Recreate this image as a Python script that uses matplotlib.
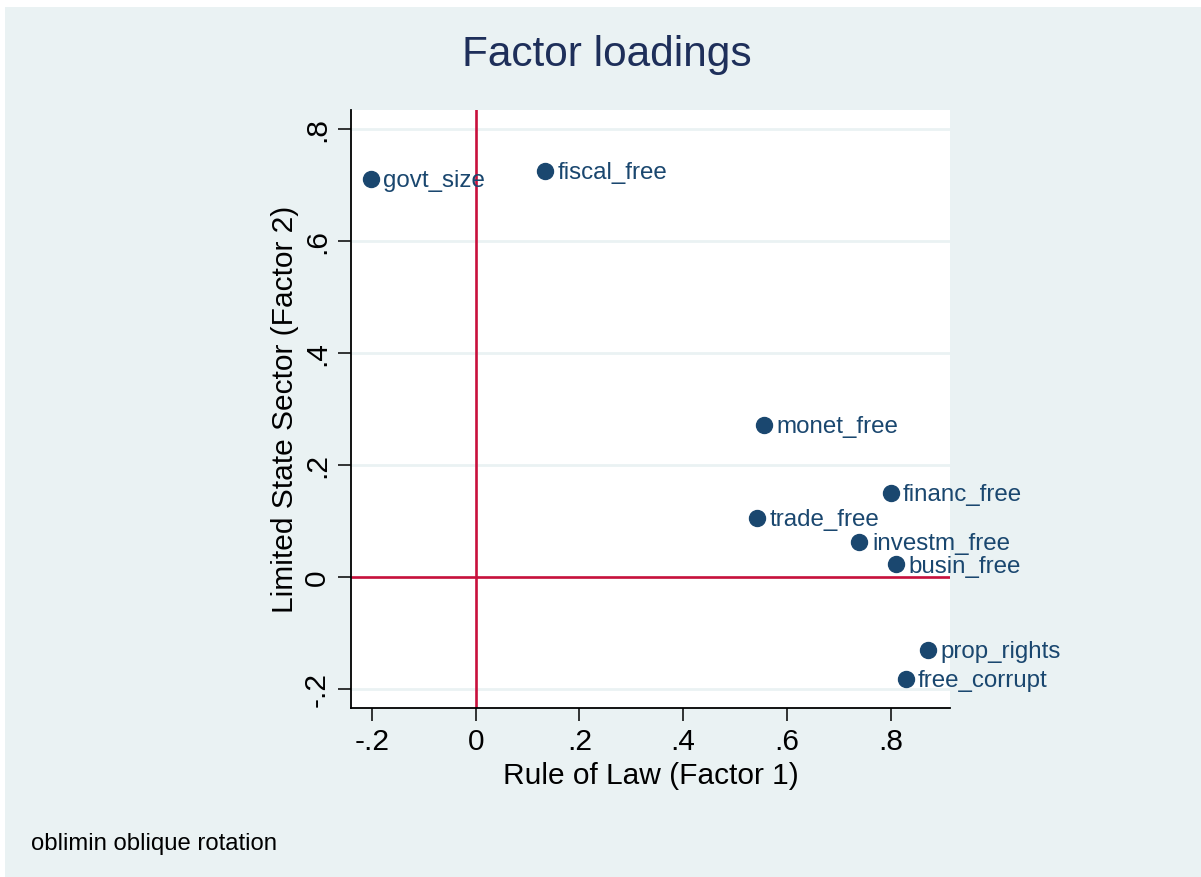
import matplotlib
matplotlib.use("Agg")
import matplotlib.pyplot as plt
from matplotlib.patches import Rectangle

plt.rcParams['font.family'] = ['Liberation Sans', 'DejaVu Sans']

variables = ["govt_size", "fiscal_free", "monet_free", "financ_free", "trade_free",
             "investm_free", "busin_free", "prop_rights", "free_corrupt"]
factor1 = [-0.202, 0.133, 0.556, 0.800, 0.542, 0.740, 0.810, 0.873, 0.829]
factor2 = [0.711, 0.725, 0.272, 0.150, 0.106, 0.063, 0.023, -0.129, -0.182]

xticks = [-0.2, 0, 0.2, 0.4, 0.6, 0.8]
yticks = [-0.2, 0, 0.2, 0.4, 0.6, 0.8]

def fmt(v):
    if abs(v) < 1e-9:
        return "0"
    s = f"{v:.1f}"
    return s.replace("0.", ".")

BG = "#EAF2F3"
NAVY = "#1a476f"
RED = "#c8103c"

fig = plt.figure(figsize=(12.01, 8.77), dpi=100)
fig.patch.set_facecolor("white")
fig.patches.append(Rectangle((5 / 1201, 0), 1, 1 - 7 / 877, transform=fig.transFigure,
                             facecolor=BG, edgecolor="none", zorder=-10))

ax = fig.add_axes([351 / 1201, 1 - 708 / 877, (950 - 351) / 1201, (708 - 110) / 877])
ax.set_facecolor("white")
ax.set_xlim(-0.2405, 0.9147)
ax.set_ylim(-0.2334, 0.8345)

for y in yticks:
    ax.axhline(y, color=BG, lw=2, zorder=1)
ax.axvline(0, color=RED, lw=1.9, zorder=2)
ax.axhline(0, color=RED, lw=1.9, zorder=2)

ax.plot(factor1, factor2, 'o', color=NAVY, markersize=11.5, zorder=3, clip_on=False)
for x, y, name in zip(factor1, factor2, variables):
    ax.annotate(name, (x, y), xytext=(9, -1.5), textcoords='offset points',
                va='center', ha='left', color=NAVY, fontsize=17.4, zorder=4,
                annotation_clip=False)

for side in ['top', 'right']:
    ax.spines[side].set_visible(False)
for side in ['left', 'bottom']:
    ax.spines[side].set_linewidth(1.3)
    ax.spines[side].set_color("black")

ax.set_xticks(xticks)
ax.set_xticklabels([fmt(v) for v in xticks])
ax.set_yticks(yticks)
ax.set_yticklabels([fmt(v) for v in yticks], rotation=90, va='center')
ax.tick_params(axis='both', length=9.4, width=1.1, labelsize=21.5, pad=5)

ax.set_xlabel("Rule of Law (Factor 1)", fontsize=21.5, labelpad=4)
ax.set_ylabel("Limited State Sector (Factor 2)", fontsize=21.5, labelpad=3)

fig.text(0.505, 1 - 66 / 877, "Factor loadings", ha='center', va='baseline',
         fontsize=30.5, color="#1e2f5a")
fig.text(31 / 1201, 1 - 850 / 877, "oblimin oblique rotation", ha='left', va='baseline',
         fontsize=17.2, color="black")

fig.savefig("out.png", dpi=100, facecolor=fig.get_facecolor())
